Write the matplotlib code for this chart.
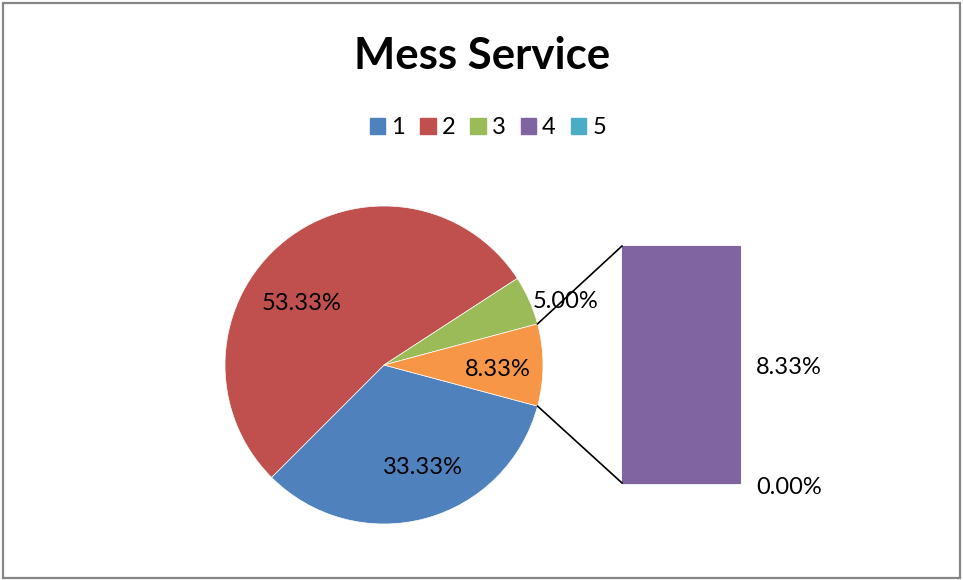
import numpy as np
import matplotlib
matplotlib.use("Agg")
import matplotlib.pyplot as plt
from matplotlib.patches import Patch, Rectangle

plt.rcParams["font.family"] = ["Lato", "DejaVu Sans"]

# data (counts out of 60 responses)
categories = ["1", "2", "3", "4", "5"]
counts = [20, 32, 3, 5, 0]
colors = ["#4F81BD", "#C0504D", "#9BBB59", "#8064A2", "#4BACC6"]
other_color = "#F79646"
title = "Mess Service"

total = sum(counts)
pcts = [100.0 * c / total for c in counts]

# pie = 1, 2, 3 and "other" (4 + 5); bar breaks down the "other" slice
pie_vals = counts[:3] + [counts[3] + counts[4]]
pie_cols = colors[:3] + [other_color]
bar_vals = [counts[4], counts[3]]  # bottom -> top
bar_cols = [colors[4], colors[3]]
bar_pcts = [pcts[4], pcts[3]]

W, H = 963, 580
fig = plt.figure(figsize=(W / 100, H / 100), dpi=100)
ax = fig.add_axes([0, 0, 1, 1])

# outer border
fig.patches.append(Rectangle((3 / W, 2 / H), (W - 6) / W, (H - 5) / H,
                             transform=fig.transFigure, fill=False,
                             edgecolor="#868686", linewidth=1.6))

cx, cy, r = 384, H - 365, 159
wedges, _ = ax.pie(pie_vals, colors=pie_cols, startangle=345, counterclock=False,
                   center=(cx, cy), radius=r, frame=True,
                   wedgeprops=dict(linewidth=0.5, edgecolor="white"))
ax.set_xlim(0, W)
ax.set_ylim(0, H)
ax.set_aspect("equal")
ax.axis("off")

# percentage labels on the pie
pie_pcts = pcts[:3] + [pcts[3] + pcts[4]]
label_pos = [(423, 468), (302, 304), (566, 302), (498, 369)]
for p, (lx, ly) in zip(pie_pcts, label_pos):
    ax.text(lx, H - ly, f"{p:.2f}%", ha="center", va="center", fontsize=17)

# bar of the "other" slice
bx, bw = 622, 118
by = H - 483
scale = 237 / sum(bar_vals)
bottom = by
for v, c, p in zip(bar_vals, bar_cols, bar_pcts):
    ax.bar(bx + bw / 2, v * scale, width=bw, bottom=bottom, color=c,
           edgecolor=c, linewidth=0.8)
    ax.text(756, bottom + v * scale / 2 - (5 if v == 0 else 3), f"{p:.2f}%",
            ha="left", va="center", fontsize=17)
    bottom += v * scale
bar_top = bottom

# connector lines from "other" wedge edges to bar corners
ow = wedges[3]
for ang, ty in [(ow.theta1, by), (ow.theta2, bar_top)]:
    px = cx + r * np.cos(np.radians(ang))
    py = cy + r * np.sin(np.radians(ang))
    ax.plot([px, bx], [py, ty], color="black", linewidth=1.2)

fig.text(482 / W, 1 - 56 / H, title, ha="center", va="center",
         fontsize=31.5, fontweight="bold")

handles = [Patch(facecolor=c, edgecolor=c) for c in colors]
fig.legend(handles, categories, loc="center", bbox_to_anchor=(488 / W, 1 - 128 / H),
           ncol=5, frameon=False, fontsize=17, handlelength=0.65, handleheight=0.65,
           handletextpad=0.25, columnspacing=0.65)

fig.savefig("out.png", dpi=100)
